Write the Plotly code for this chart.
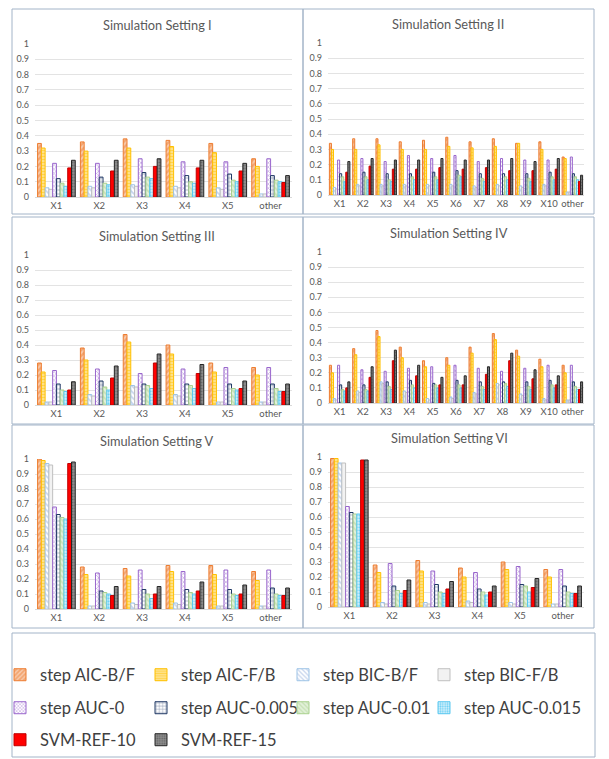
import plotly.graph_objects as go

W, H = 609, 759
B = 145            # bottom margin reserved for the legend area
PH = H - B         # plot-area height in px
OFF = 8            # page (body) offset of the figure in the browser

series_names = ["step AIC-B/F", "step AIC-F/B", "step BIC-B/F", "step BIC-F/B",
                "step AUC-0", "step AUC-0.005", "step AUC-0.01", "step AUC-0.015",
                "SVM-REF-10", "SVM-REF-15"]

cats5 = ["X1", "X2", "X3", "X4", "X5", "other"]
cats10 = ["X1", "X2", "X3", "X4", "X5", "X6", "X7", "X8", "X9", "X10", "other"]

titles = ["Simulation Setting I", "Simulation Setting II", "Simulation Setting III",
          "Simulation Setting IV", "Simulation Setting V", "Simulation Setting VI"]

setting_I = [
    [0.35, 0.36, 0.38, 0.37, 0.35, 0.25],
    [0.32, 0.30, 0.32, 0.33, 0.29, 0.20],
    [0.06, 0.07, 0.08, 0.07, 0.06, 0.02],
    [0.05, 0.06, 0.07, 0.06, 0.05, 0.02],
    [0.22, 0.22, 0.25, 0.23, 0.23, 0.25],
    [0.12, 0.13, 0.16, 0.14, 0.15, 0.14],
    [0.09, 0.09, 0.13, 0.10, 0.11, 0.11],
    [0.07, 0.08, 0.12, 0.09, 0.10, 0.10],
    [0.19, 0.17, 0.20, 0.19, 0.17, 0.095],
    [0.24, 0.24, 0.25, 0.24, 0.22, 0.14],
]

setting_II = [
    [0.34, 0.37, 0.37, 0.35, 0.36, 0.38, 0.35, 0.37, 0.34, 0.35, 0.25],
    [0.30, 0.30, 0.33, 0.30, 0.30, 0.32, 0.31, 0.32, 0.34, 0.30, 0.24],
    [0.05, 0.07, 0.07, 0.07, 0.07, 0.07, 0.06, 0.07, 0.06, 0.07, 0.02],
    [0.04, 0.06, 0.06, 0.06, 0.06, 0.06, 0.05, 0.06, 0.05, 0.06, 0.02],
    [0.23, 0.24, 0.22, 0.26, 0.24, 0.26, 0.22, 0.24, 0.23, 0.23, 0.25],
    [0.14, 0.15, 0.14, 0.14, 0.15, 0.16, 0.14, 0.14, 0.14, 0.15, 0.14],
    [0.12, 0.12, 0.10, 0.12, 0.12, 0.13, 0.11, 0.12, 0.11, 0.12, 0.12],
    [0.09, 0.10, 0.09, 0.10, 0.10, 0.12, 0.09, 0.10, 0.09, 0.10, 0.10],
    [0.15, 0.19, 0.17, 0.17, 0.18, 0.17, 0.18, 0.16, 0.16, 0.17, 0.09],
    [0.22, 0.24, 0.23, 0.23, 0.24, 0.23, 0.23, 0.24, 0.22, 0.24, 0.13],
]

setting_III = [
    [0.28, 0.38, 0.47, 0.40, 0.28, 0.25],
    [0.22, 0.30, 0.42, 0.34, 0.22, 0.20],
    [0.02, 0.07, 0.13, 0.07, 0.02, 0.02],
    [0.02, 0.06, 0.12, 0.06, 0.02, 0.02],
    [0.23, 0.24, 0.21, 0.24, 0.25, 0.25],
    [0.14, 0.16, 0.14, 0.14, 0.14, 0.14],
    [0.10, 0.12, 0.13, 0.13, 0.11, 0.11],
    [0.09, 0.10, 0.11, 0.11, 0.10, 0.09],
    [0.10, 0.18, 0.28, 0.21, 0.11, 0.09],
    [0.155, 0.26, 0.34, 0.27, 0.16, 0.14],
]

setting_IV = [
    [0.25, 0.36, 0.48, 0.37, 0.28, 0.30, 0.37, 0.46, 0.35, 0.29, 0.25],
    [0.20, 0.32, 0.44, 0.30, 0.24, 0.25, 0.33, 0.42, 0.31, 0.24, 0.20],
    [0.03, 0.08, 0.14, 0.08, 0.03, 0.04, 0.07, 0.13, 0.06, 0.03, 0.02],
    [0.02, 0.07, 0.13, 0.07, 0.02, 0.03, 0.06, 0.12, 0.05, 0.02, 0.02],
    [0.25, 0.22, 0.21, 0.23, 0.24, 0.25, 0.23, 0.21, 0.23, 0.25, 0.25],
    [0.12, 0.12, 0.14, 0.15, 0.13, 0.15, 0.14, 0.14, 0.14, 0.15, 0.14],
    [0.09, 0.09, 0.11, 0.12, 0.12, 0.12, 0.11, 0.13, 0.11, 0.12, 0.11],
    [0.08, 0.08, 0.09, 0.10, 0.10, 0.10, 0.09, 0.11, 0.09, 0.10, 0.09],
    [0.10, 0.17, 0.28, 0.18, 0.12, 0.12, 0.19, 0.28, 0.16, 0.12, 0.09],
    [0.14, 0.24, 0.35, 0.25, 0.17, 0.18, 0.24, 0.33, 0.22, 0.18, 0.14],
]

setting_V = [
    [1.00, 0.28, 0.27, 0.29, 0.29, 0.25],
    [0.99, 0.23, 0.22, 0.25, 0.23, 0.19],
    [0.97, 0.02, 0.04, 0.04, 0.02, 0.02],
    [0.96, 0.02, 0.03, 0.03, 0.02, 0.02],
    [0.68, 0.24, 0.26, 0.25, 0.26, 0.26],
    [0.63, 0.12, 0.13, 0.13, 0.13, 0.14],
    [0.61, 0.11, 0.10, 0.11, 0.10, 0.10],
    [0.60, 0.10, 0.07, 0.10, 0.09, 0.09],
    [0.97, 0.09, 0.10, 0.12, 0.10, 0.09],
    [0.98, 0.15, 0.15, 0.18, 0.16, 0.14],
]

setting_VI = [
    [0.99, 0.28, 0.31, 0.26, 0.30, 0.25],
    [0.99, 0.23, 0.24, 0.20, 0.25, 0.20],
    [0.96, 0.03, 0.03, 0.04, 0.03, 0.02],
    [0.96, 0.02, 0.02, 0.03, 0.02, 0.02],
    [0.67, 0.29, 0.24, 0.23, 0.27, 0.25],
    [0.63, 0.14, 0.15, 0.12, 0.15, 0.14],
    [0.62, 0.11, 0.10, 0.10, 0.14, 0.10],
    [0.62, 0.09, 0.09, 0.08, 0.10, 0.09],
    [0.98, 0.11, 0.12, 0.10, 0.13, 0.09],
    [0.98, 0.18, 0.17, 0.14, 0.19, 0.14],
]

y_ticks = [0, 0.1, 0.2, 0.3, 0.4, 0.5, 0.6, 0.7, 0.8, 0.9, 1]
y_ticktext = ["0", "0.1", "0.2", "0.3", "0.4", "0.5", "0.6", "0.7", "0.8", "0.9", "1"]

settings = [setting_I, setting_II, setting_III, setting_IV, setting_V, setting_VI]
setting_cats = [cats5, cats10, cats5, cats10, cats5, cats5]

styles = [
    dict(shape="/", fg="#ED7D31", bg="#F8CBAD", line="#ED7D31", size=4, sol=0.55),
    dict(shape="-", fg="#FFC000", bg="#FFE699", line="#FFC000", size=3, sol=0.5),
    dict(shape="\\", fg="#8FAADC", bg="#FFFFFF", line="#9DC3E6", size=4, sol=0.4),
    dict(shape="", fg="#E7E6E6", bg="#F2F2F2", line="#BFBFBF", size=4, sol=0.3),
    dict(shape="x", fg="#9966CC", bg="#FFFFFF", line="#9966CC", size=3, sol=0.45),
    dict(shape="+", fg="#1F3864", bg="#FFFFFF", line="#1F3864", size=4, sol=0.3),
    dict(shape="\\", fg="#A9D18E", bg="#E2F0D9", line="#A9D18E", size=4, sol=0.4),
    dict(shape=".", fg="#00B0F0", bg="#DDF2FB", line="#5BC8F0", size=3, sol=0.45),
    dict(shape="", fg="#FF0000", bg="#FF0000", line="#C00000", size=4, sol=0.3),
    dict(shape=".", fg="#404040", bg="#8C8C8C", line="#262626", size=3, sol=0.35),
]


def px_x(px):
    return (px - OFF) / W


def px_y(py):
    return 1 - (py - OFF) / PH


panels = [
    (35, 292, 44, 197),
    (328, 584, 43, 195),
    (35, 292, 255, 405),
    (328, 584, 252, 403),
    (35, 292, 459, 609),
    (328, 584, 457, 607),
]
title_pos = [(157, 25), (448, 24), (157, 236), (449, 233), (157, 441), (449, 438)]
borders = [
    (12, 9, 303, 214), (303, 9, 594, 214),
    (12, 217, 303, 424), (303, 217, 594, 424),
    (12, 425, 303, 628), (303, 425, 594, 628),
]

# legend grid: 4 columns x 3 rows (pixel positions of each entry's legend box)
legend_cols = [0, 141, 283, 424]
legend_rows = [675, 708, 740]

FONT = "Lato"
fig = go.Figure()

legend_ids = ["legend" if i == 0 else "legend%d" % (i + 1) for i in range(len(series_names))]

for p, (vals, cats) in enumerate(zip(settings, setting_cats)):
    ax = "" if p == 0 else str(p + 1)
    for s, name in enumerate(series_names):
        st = styles[s]
        fig.add_trace(go.Bar(
            x=cats, y=vals[s], name=name,
            xaxis="x" + ax, yaxis="y" + ax,
            legendgroup=name, showlegend=(p == 0), legend=legend_ids[s],
            marker=dict(
                color=st["bg"],
                line=dict(color=st["line"], width=1),
                pattern=dict(shape=st["shape"], fgcolor=st["fg"], bgcolor=st["bg"],
                             size=st["size"], solidity=st["sol"], fillmode="overlay"),
            ),
        ))
    x0, x1, yt, yb = panels[p]
    fig.layout["xaxis" + ax] = dict(
        domain=[px_x(x0), px_x(x1)], anchor="y" + ax,
        showline=True, linecolor="#D9D9D9", linewidth=1,
        ticks="", tickfont=dict(size=9.5, color="#595959", family=FONT),
        showgrid=False, fixedrange=True,
    )
    fig.layout["yaxis" + ax] = dict(
        domain=[px_y(yb), px_y(yt)], anchor="x" + ax,
        range=[0, 1], tickvals=y_ticks, ticktext=y_ticktext,
        showgrid=True, gridcolor="#E3E3E3", gridwidth=1, zeroline=False,
        ticks="", tickfont=dict(size=9, color="#595959", family=FONT),
        ticklabelstandoff=5,
        showline=False, fixedrange=True,
    )
    tx, ty = title_pos[p]
    fig.add_annotation(x=px_x(tx), y=px_y(ty), xref="paper", yref="paper",
                       text=titles[p], showarrow=False, xanchor="center", yanchor="middle",
                       font=dict(size=12.8, color="#595959", family=FONT))

shapes = []
for (bx0, by0, bx1, by1) in borders:
    shapes.append(dict(type="rect", xref="paper", yref="paper",
                       x0=px_x(bx0), x1=px_x(bx1), y0=px_y(by1), y1=px_y(by0),
                       line=dict(color="#A3B4C8", width=1), fillcolor="rgba(0,0,0,0)"))
shapes.append(dict(type="rect", xref="paper", yref="paper",
                   x0=px_x(12), x1=px_x(595), y0=px_y(757), y1=px_y(633),
                   line=dict(color="#A3B4C8", width=1), fillcolor="rgba(0,0,0,0)"))

leg_common = dict(orientation="h", xanchor="left", yanchor="middle",
                  font=dict(size=16.5, color="#404040", family=FONT),
                  bgcolor="rgba(0,0,0,0)", itemclick=False, itemdoubleclick=False,
                  tracegroupgap=0, itemwidth=30)

legend_layout = {}
for i, lid in enumerate(legend_ids):
    r, c = divmod(i, 4)
    legend_layout[lid] = dict(x=px_x(legend_cols[c]), y=px_y(legend_rows[r]), **leg_common)

fig.update_layout(
    width=W, height=H,
    margin=dict(l=0, r=0, t=0, b=B, autoexpand=False),
    paper_bgcolor="white", plot_bgcolor="white",
    barmode="group", bargap=0.12, bargroupgap=0,
    shapes=shapes,
    font=dict(family=FONT),
    **legend_layout,
)

fig.write_html("out.html")
